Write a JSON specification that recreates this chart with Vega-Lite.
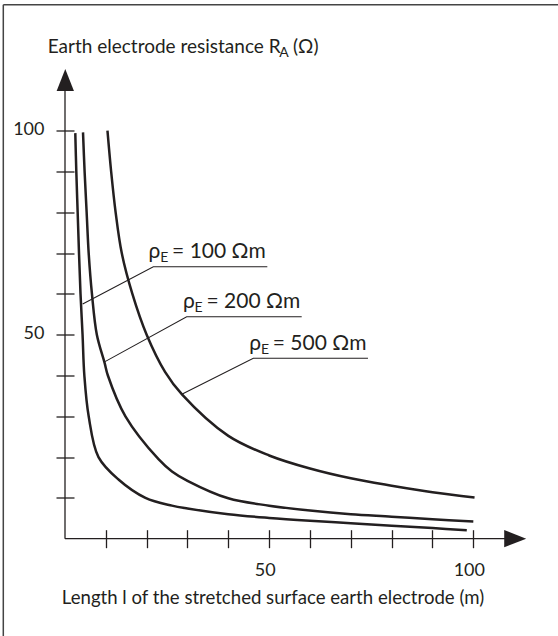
{
  "$schema": "https://vega.github.io/schema/vega-lite/v6.json",
  "width": 461.4,
  "height": 469.2,
  "autosize": {"type": "none"},
  "padding": {"left": 65, "top": 69.5, "right": 31.6, "bottom": 97.3},
  "background": "white",
  "config": {
    "view": {"stroke": null},
    "font": "Lato",
    "text": {"font": "Lato", "color": "#231f20"}
  },
  "data": {"values": [{"k": 1}]},
  "datasets": {
    "curves": [
      {"rho": "100", "l": 2.52, "R": 99.4}, {"rho": "100", "l": 2.77, "R": 90}, {"rho": "100", "l": 3.1, "R": 80},
      {"rho": "100", "l": 3.43, "R": 70}, {"rho": "100", "l": 3.8, "R": 60}, {"rho": "100", "l": 4.3, "R": 50},
      {"rho": "100", "l": 4.74, "R": 40}, {"rho": "100", "l": 5.8, "R": 30}, {"rho": "100", "l": 8.2, "R": 20},
      {"rho": "100", "l": 13.1, "R": 14.5}, {"rho": "100", "l": 19.7, "R": 10}, {"rho": "100", "l": 26.2, "R": 8.1},
      {"rho": "100", "l": 30, "R": 7.4}, {"rho": "100", "l": 40, "R": 6.0}, {"rho": "100", "l": 50, "R": 5.1},
      {"rho": "100", "l": 60, "R": 4.4}, {"rho": "100", "l": 70, "R": 3.8}, {"rho": "100", "l": 80, "R": 3.2},
      {"rho": "100", "l": 90, "R": 2.6}, {"rho": "100", "l": 98.4, "R": 2.1},
      {"rho": "200", "l": 4.41, "R": 99.6}, {"rho": "200", "l": 4.8, "R": 90}, {"rho": "200", "l": 5.3, "R": 80},
      {"rho": "200", "l": 5.8, "R": 70}, {"rho": "200", "l": 6.6, "R": 60}, {"rho": "200", "l": 7.8, "R": 50},
      {"rho": "200", "l": 9.7, "R": 43.1}, {"rho": "200", "l": 10.5, "R": 40}, {"rho": "200", "l": 14.8, "R": 30},
      {"rho": "200", "l": 22.9, "R": 19.5}, {"rho": "200", "l": 26.2, "R": 16.5}, {"rho": "200", "l": 30, "R": 14.2},
      {"rho": "200", "l": 40, "R": 9.9}, {"rho": "200", "l": 50, "R": 8.1}, {"rho": "200", "l": 60, "R": 6.9},
      {"rho": "200", "l": 70, "R": 6.0}, {"rho": "200", "l": 80, "R": 5.4}, {"rho": "200", "l": 90, "R": 4.75},
      {"rho": "200", "l": 100, "R": 4.2},
      {"rho": "500", "l": 10.4, "R": 100}, {"rho": "500", "l": 11.3, "R": 90}, {"rho": "500", "l": 12.4, "R": 80},
      {"rho": "500", "l": 13.9, "R": 70}, {"rho": "500", "l": 16.5, "R": 60}, {"rho": "500", "l": 20, "R": 50},
      {"rho": "500", "l": 24.5, "R": 40.9}, {"rho": "500", "l": 28.7, "R": 35.3}, {"rho": "500", "l": 40, "R": 25.2},
      {"rho": "500", "l": 50, "R": 20.4}, {"rho": "500", "l": 60, "R": 17.2}, {"rho": "500", "l": 70, "R": 14.8},
      {"rho": "500", "l": 80, "R": 13.0}, {"rho": "500", "l": 90, "R": 11.4}, {"rho": "500", "l": 100.3, "R": 10.1}
    ],
    "leaders": [
      {"rho": "100", "order": 1, "l": 4.33, "R": 57.5},
      {"rho": "100", "order": 2, "l": 21.63, "R": 66.67},
      {"rho": "100", "order": 3, "l": 49.55, "R": 66.67},
      {"rho": "200", "order": 1, "l": 9.8, "R": 43.4},
      {"rho": "200", "order": 2, "l": 29.8, "R": 54.41},
      {"rho": "200", "order": 3, "l": 57.97, "R": 54.41},
      {"rho": "500", "order": 1, "l": 28.73, "R": 35.47},
      {"rho": "500", "order": 2, "l": 46.12, "R": 44.22},
      {"rho": "500", "order": 3, "l": 74.2, "R": 44.22}
    ],
    "labels": [
      {"rho": "100", "text": "= 100 Ωm", "l": 49.55, "R": 66.67},
      {"rho": "200", "text": "= 200 Ωm", "l": 57.97, "R": 54.41},
      {"rho": "500", "text": "= 500 Ωm", "l": 74.2, "R": 44.22}
    ]
  },
  "layer": [
    {
      "data": {"name": "curves"},
      "mark": {"type": "line", "interpolate": "catmull-rom", "color": "#231f20", "strokeWidth": 2.5},
      "encoding": {
        "x": {
          "field": "l", "type": "quantitative",
          "scale": {"domain": [0, 113], "nice": false, "zero": false},
          "axis": {
            "values": [10, 20, 30, 40, 50, 60, 70, 80, 90, 100],
            "labelExpr": "datum.value == 50 || datum.value == 100 ? datum.label : ''",
            "domain": false, "grid": false, "offset": -9, "tickSize": 18,
            "tickColor": "#231f20", "tickWidth": 1.3,
            "labelFont": "Lato", "labelFontSize": 18, "labelColor": "#231f20",
            "labelBaseline": "alphabetic", "labelPadding": 27.9, "labelOffset": -4.5, "labelAlign": "center",
            "title": "Length l of the stretched surface earth electrode (m)",
            "titleFont": "Lato", "titleFontSize": 18.6, "titleFontWeight": "normal", "titleColor": "#231f20",
            "titleX": 207.5, "titleY": 73.6, "titleBaseline": "alphabetic", "titleAlign": "center", "titleAngle": 0
          }
        },
        "y": {
          "field": "R", "type": "quantitative",
          "scale": {"domain": [0, 115], "nice": false, "zero": false},
          "axis": {
            "values": [10, 20, 30, 40, 50, 60, 70, 80, 90, 100],
            "labelExpr": "datum.value == 50 || datum.value == 100 ? datum.label : ''",
            "domain": false, "grid": false, "offset": -9, "tickSize": 18,
            "tickColor": "#231f20", "tickWidth": 1.3,
            "labelFont": "Lato", "labelFontSize": 18, "labelColor": "#231f20",
            "labelBaseline": "middle", "labelPadding": 12, "labelAlign": "right", "labelOffset": -1.5,
            "title": null
          }
        },
        "detail": {"field": "rho"},
        "order": {"field": "l", "type": "quantitative"}
      }
    },
    {
      "mark": {"type": "rule", "color": "#444444", "strokeWidth": 1.5},
      "encoding": {
        "x": {"datum": -15.11, "type": "quantitative", "scale": {"domain": [0, 113], "nice": false, "zero": false}},
        "x2": {"datum": 125},
        "y": {"datum": 130.88, "type": "quantitative", "scale": {"domain": [0, 115], "nice": false, "zero": false}}
      }
    },
    {
      "mark": {"type": "rule", "color": "#444444", "strokeWidth": 1.5},
      "encoding": {
        "x": {"datum": -15.11, "type": "quantitative", "scale": {"domain": [0, 113], "nice": false, "zero": false}},
        "y": {"datum": 130.88, "type": "quantitative", "scale": {"domain": [0, 115], "nice": false, "zero": false}},
        "y2": {"datum": -26}
      }
    },
    {
      "mark": {"type": "rule", "color": "#231f20", "strokeWidth": 1.3},
      "encoding": {
        "x": {"datum": 0, "type": "quantitative", "scale": {"domain": [0, 113], "nice": false, "zero": false}},
        "y": {"datum": 0, "type": "quantitative", "scale": {"domain": [0, 115], "nice": false, "zero": false}},
        "y2": {"datum": 110}
      }
    },
    {
      "mark": {"type": "rule", "color": "#231f20", "strokeWidth": 1.3},
      "encoding": {
        "x": {"datum": 0, "type": "quantitative", "scale": {"domain": [0, 113], "nice": false, "zero": false}},
        "x2": {"datum": 108},
        "y": {"datum": 0, "type": "quantitative", "scale": {"domain": [0, 115], "nice": false, "zero": false}}
      }
    },
    {
      "mark": {"type": "point", "shape": "M0,-1L0.786,1L-0.786,1Z", "size": 484, "filled": true, "color": "#231f20", "opacity": 1, "strokeWidth": 0},
      "encoding": {
        "x": {"datum": 0.07, "type": "quantitative", "scale": {"domain": [0, 113], "nice": false, "zero": false}},
        "y": {"datum": 112.43, "type": "quantitative", "scale": {"domain": [0, 115], "nice": false, "zero": false}}
      }
    },
    {
      "mark": {"type": "point", "shape": "M1,0L-1,0.786L-1,-0.786Z", "size": 484, "filled": true, "color": "#231f20", "opacity": 1, "strokeWidth": 0},
      "encoding": {
        "x": {"datum": 110.26, "type": "quantitative", "scale": {"domain": [0, 113], "nice": false, "zero": false}},
        "y": {"datum": 0, "type": "quantitative", "scale": {"domain": [0, 115], "nice": false, "zero": false}}
      }
    },
    {
      "data": {"name": "leaders"},
      "mark": {"type": "line", "color": "#231f20", "strokeWidth": 1.1},
      "encoding": {
        "x": {"field": "l", "type": "quantitative", "scale": {"domain": [0, 113], "nice": false, "zero": false}},
        "y": {"field": "R", "type": "quantitative", "scale": {"domain": [0, 115], "nice": false, "zero": false}},
        "detail": {"field": "rho"},
        "order": {"field": "order", "type": "quantitative"}
      }
    },
    {
      "data": {"name": "labels"},
      "mark": {"type": "text", "align": "right", "baseline": "alphabetic", "fontSize": 21, "dx": -1.5, "dy": -8.4},
      "encoding": {
        "x": {"field": "l", "type": "quantitative", "scale": {"domain": [0, 113], "nice": false, "zero": false}},
        "y": {"field": "R", "type": "quantitative", "scale": {"domain": [0, 115], "nice": false, "zero": false}},
        "text": {"field": "text"}
      }
    },
    {
      "data": {"name": "labels"},
      "mark": {"type": "text", "align": "right", "baseline": "alphabetic", "fontSize": 14, "dx": -99, "dy": -4.5},
      "encoding": {
        "x": {"field": "l", "type": "quantitative", "scale": {"domain": [0, 113], "nice": false, "zero": false}},
        "y": {"field": "R", "type": "quantitative", "scale": {"domain": [0, 115], "nice": false, "zero": false}},
        "text": {"value": "E"}
      }
    },
    {
      "data": {"name": "labels"},
      "mark": {"type": "text", "align": "right", "baseline": "alphabetic", "fontSize": 21, "dx": -107, "dy": -8.4},
      "encoding": {
        "x": {"field": "l", "type": "quantitative", "scale": {"domain": [0, 113], "nice": false, "zero": false}},
        "y": {"field": "R", "type": "quantitative", "scale": {"domain": [0, 115], "nice": false, "zero": false}},
        "text": {"value": "ρ"}
      }
    },
    {
      "mark": {"type": "text", "align": "left", "baseline": "alphabetic", "fontSize": 19, "dx": -17.3},
      "encoding": {
        "x": {"datum": 0, "type": "quantitative", "scale": {"domain": [0, 113], "nice": false, "zero": false}},
        "y": {"datum": 119.12, "type": "quantitative", "scale": {"domain": [0, 115], "nice": false, "zero": false}},
        "text": {"value": "Earth electrode resistance R"}
      }
    },
    {
      "mark": {"type": "text", "align": "left", "baseline": "alphabetic", "fontSize": 14, "dx": 214.3, "dy": 4.5},
      "encoding": {
        "x": {"datum": 0, "type": "quantitative", "scale": {"domain": [0, 113], "nice": false, "zero": false}},
        "y": {"datum": 119.12, "type": "quantitative", "scale": {"domain": [0, 115], "nice": false, "zero": false}},
        "text": {"value": "A"}
      }
    },
    {
      "mark": {"type": "text", "align": "left", "baseline": "alphabetic", "fontSize": 19, "dx": 228},
      "encoding": {
        "x": {"datum": 0, "type": "quantitative", "scale": {"domain": [0, 113], "nice": false, "zero": false}},
        "y": {"datum": 119.12, "type": "quantitative", "scale": {"domain": [0, 115], "nice": false, "zero": false}},
        "text": {"value": "(Ω)"}
      }
    }
  ]
}
